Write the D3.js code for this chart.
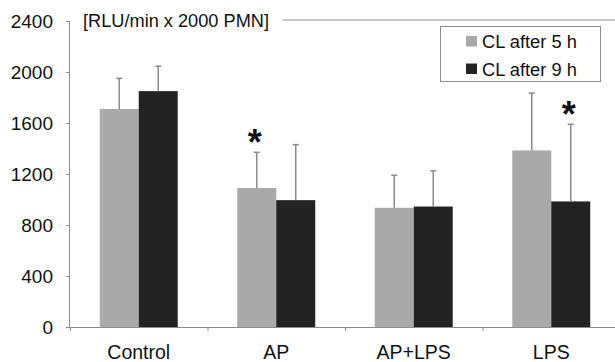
<!DOCTYPE html>
<html>
<head>
<meta charset="utf-8">
<script src="https://cdn.jsdelivr.net/npm/d3@7"></script>
<style>
  body { margin: 0; background: #fff; }
  svg { display: block; font-family: "Liberation Sans", Arial, sans-serif; }
</style>
</head>
<body>
<svg class="svg-main" width="615" height="362"></svg>
<script>
// values
const categories = ["Control", "AP", "AP+LPS", "LPS"];
const series = ["CL after 5 h", "CL after 9 h"];
const means5h = [1710, 1090, 935, 1385];
const means9h = [1850, 995, 945, 985];
const sd5h = [240, 280, 255, 450];
const sd9h = [195, 435, 280, 605];
const yTicks = [0, 400, 800, 1200, 1600, 2000, 2400];
// asterisks: [category index, series index]
const stars = [[1, 0], [3, 1]];

const svg = d3.select(".svg-main");
const colors = ["#a9a9a9", "#232323"];
const axisColor = "#8c8c8c";

const margin = { left: 70, top: 21, bottom: 327, right: 620 };

const y = d3.scaleLinear().domain([0, 2400]).range([margin.bottom, margin.top]);
const x0 = d3.scaleBand()
  .domain(categories)
  .range([margin.left, margin.right])
  .paddingInner(0.433)
  .paddingOuter(0.2165);
const x1 = d3.scaleBand()
  .domain(series)
  .range([0, x0.bandwidth()]);

const means = [means5h, means9h];
const sds = [sd5h, sd9h];
const rows = [];
categories.forEach((c, i) => {
  series.forEach((s, j) => {
    rows.push({ cat: c, ser: s, si: j, ci: i, mean: means[j][i], sd: sds[j][i] });
  });
});

// top frame line (partly hidden by the unit label)
svg.append("line")
  .attr("x1", 283).attr("x2", 615)
  .attr("y1", y(2400) - 1).attr("y2", y(2400) - 1)
  .attr("stroke", axisColor).attr("stroke-width", 1);

// y axis
const yAxis = svg.append("g")
  .attr("transform", `translate(${margin.left},0)`)
  .call(d3.axisLeft(y).tickValues(yTicks).tickSize(4).tickPadding(13).tickFormat(d3.format("d")));
yAxis.select(".domain").attr("stroke", axisColor).attr("d", `M-0.5,${y(0)}V${y(2400)}`);
yAxis.selectAll(".tick line").attr("stroke", axisColor);
yAxis.selectAll(".tick text")
  .attr("fill", "#111")
  .style("font-size", "19px");

// x axis with boundary ticks
const xb = d3.scaleLinear().domain([0, categories.length]).range([margin.left, margin.right]);
const xAxis = svg.append("g")
  .attr("transform", `translate(0,${y(0)})`)
  .call(d3.axisBottom(xb).tickValues(d3.range(categories.length + 1)).tickSize(4).tickFormat(""));
xAxis.select(".domain").attr("stroke", axisColor).attr("d", `M${margin.left - 4},0.5H${margin.right}`);
xAxis.selectAll(".tick line").attr("stroke", axisColor);

// bars
svg.append("g")
  .selectAll("rect")
  .data(rows)
  .enter().append("rect")
    .attr("x", d => x0(d.cat) + x1(d.ser))
    .attr("y", d => y(d.mean))
    .attr("width", x1.bandwidth())
    .attr("height", d => y(0) - y(d.mean))
    .attr("fill", d => colors[d.si]);

// error bars
const err = svg.append("g")
  .attr("stroke", "#8a8a8a")
  .attr("stroke-width", 1.5)
  .selectAll("g")
  .data(rows)
  .enter().append("g");
err.append("line")
  .attr("x1", d => x0(d.cat) + x1(d.ser) + x1.bandwidth() / 2)
  .attr("x2", d => x0(d.cat) + x1(d.ser) + x1.bandwidth() / 2)
  .attr("y1", d => y(d.mean))
  .attr("y2", d => y(d.mean + d.sd));
err.append("line")
  .attr("x1", d => x0(d.cat) + x1(d.ser) + x1.bandwidth() / 2 - 3)
  .attr("x2", d => x0(d.cat) + x1(d.ser) + x1.bandwidth() / 2 + 3)
  .attr("y1", d => y(d.mean + d.sd))
  .attr("y2", d => y(d.mean + d.sd));

// significance stars
svg.append("g")
  .selectAll("text")
  .data(stars)
  .enter().append("text")
    .attr("x", d => x0(categories[d[0]]) + x1(series[d[1]]) + x1.bandwidth() / 2 - 2)
    .attr("y", d => y(means[d[1]][d[0]] + sds[d[1]][d[0]]) + 3)
    .attr("text-anchor", "middle")
    .style("font-size", "36px")
    .style("font-weight", "bold")
    .attr("fill", "#111")
    .text("*");

// category labels
svg.append("g")
  .selectAll("text")
  .data(categories)
  .enter().append("text")
    .attr("x", d => x0(d) + x0.bandwidth() / 2)
    .attr("y", 359)
    .attr("text-anchor", "middle")
    .style("font-size", "19.5px")
    .attr("fill", "#111")
    .text(d => d);

// unit label
svg.append("text")
  .attr("x", 83)
  .attr("y", 27)
  .style("font-size", "18.2px")
  .attr("fill", "#111")
  .text("[RLU/min x 2000 PMN]");

// legend
const legend = svg.append("g");
legend.append("rect")
  .attr("x", 440.5).attr("y", 26.5)
  .attr("width", 160).attr("height", 55)
  .attr("fill", "#fff")
  .attr("stroke", "#8c8c8c");
const item = legend.selectAll("g")
  .data(series)
  .enter().append("g")
    .attr("transform", (d, i) => `translate(466,${36 + i * 27.5})`);
item.append("rect")
  .attr("width", 11).attr("height", 10.5)
  .attr("fill", (d, i) => colors[i]);
item.append("text")
  .attr("x", 16)
  .attr("y", 12)
  .style("font-size", "18.3px")
  .attr("fill", "#111")
  .text(d => d);
</script>
</body>
</html>
